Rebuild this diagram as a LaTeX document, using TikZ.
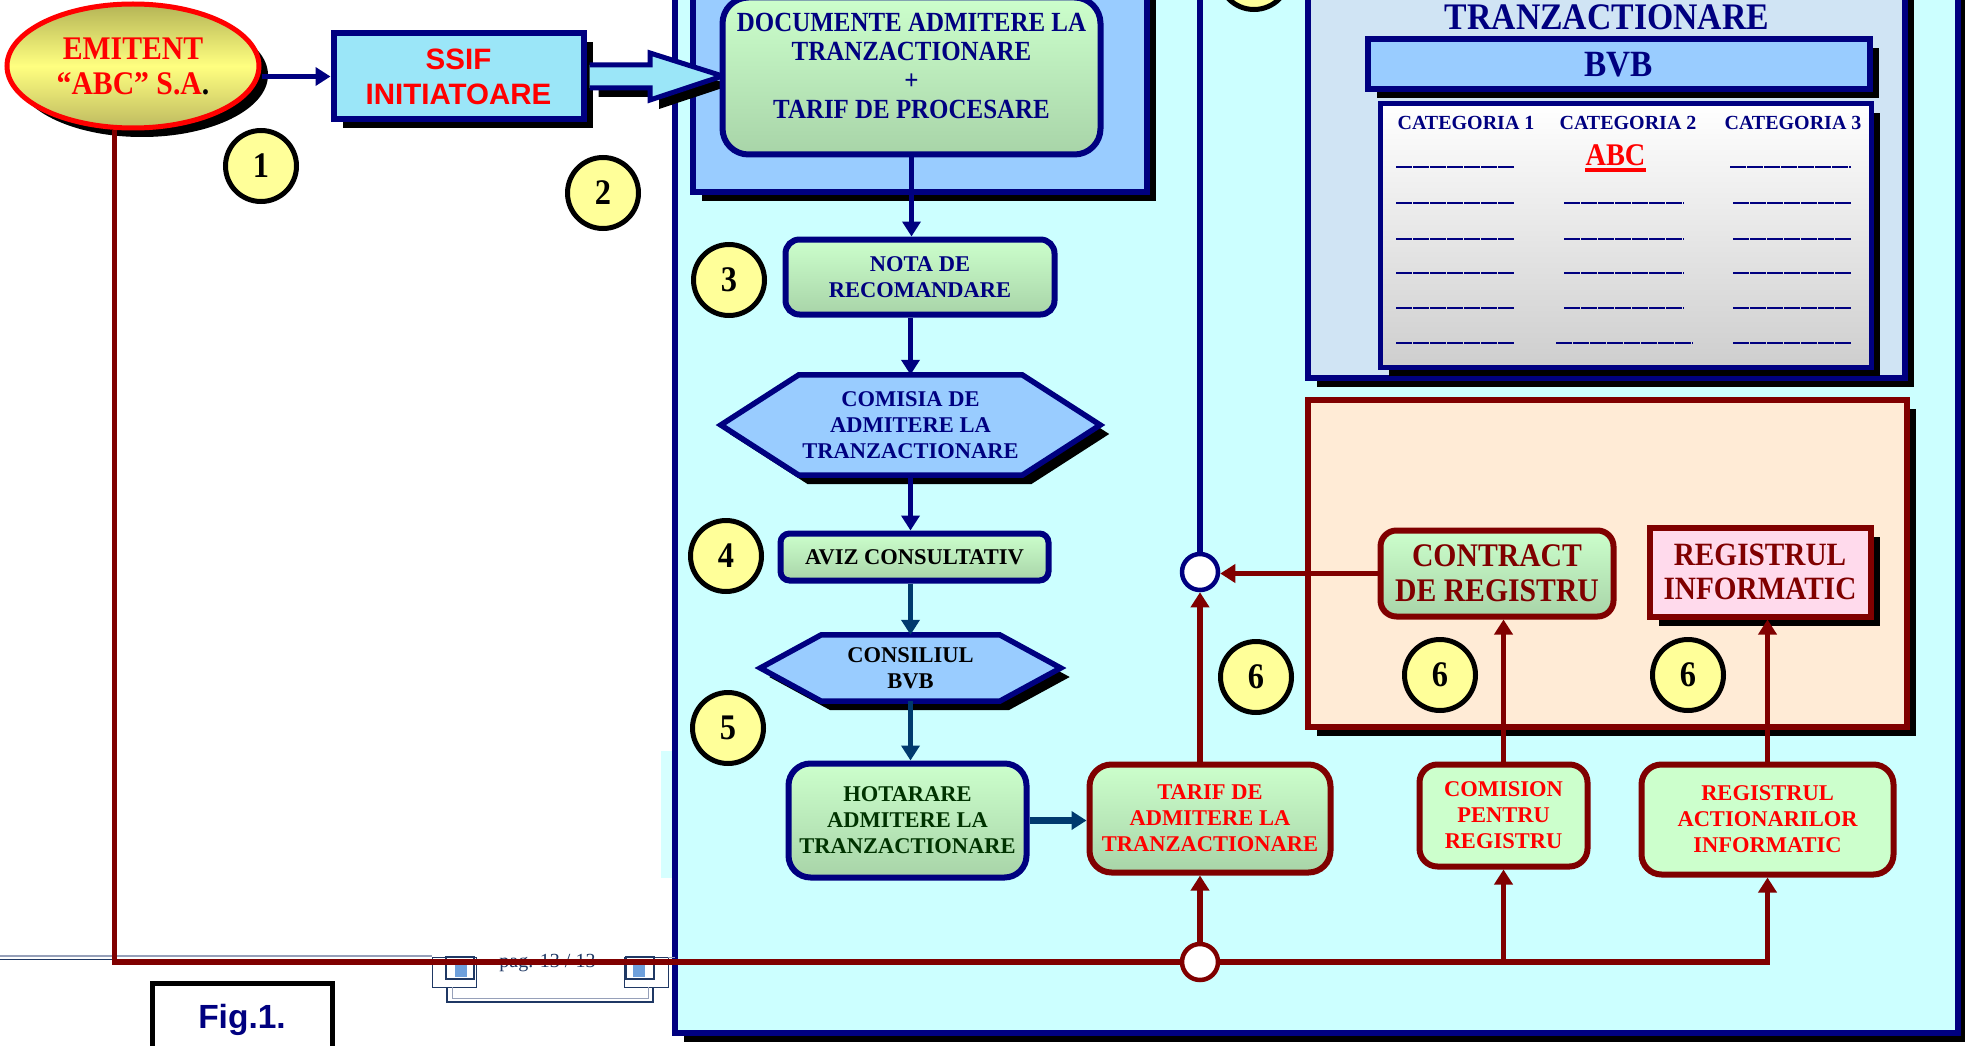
\documentclass[tikz,border=0pt]{standalone}
\usepackage{fontspec}
\setmainfont{Liberation Serif}
\newfontfamily\narrowrm[FakeStretch=0.9]{Liberation Serif}
\newfontfamily\arialbf{Liberation Sans}
\usetikzlibrary{shapes.geometric,arrows.meta,shadows,calc}

\definecolor{navy}{RGB}{0,0,128}
\definecolor{darkred}{RGB}{128,0,0}
\definecolor{slate}{RGB}{0,58,110}
\definecolor{darkgreen}{RGB}{0,51,0}
\definecolor{cyanbg}{RGB}{204,255,255}
\definecolor{cyanpale}{RGB}{214,255,255}
\definecolor{skyblue}{RGB}{153,204,255}
\definecolor{ssifcyan}{RGB}{155,230,248}
\definecolor{greentop}{RGB}{204,255,204}
\definecolor{greenbot}{RGB}{168,212,168}
\definecolor{peach}{RGB}{255,235,214}
\definecolor{pinkbox}{RGB}{255,218,236}
\definecolor{tranzbg}{RGB}{208,228,244}
\definecolor{tablegrey}{RGB}{206,206,206}
\definecolor{badgeyellow}{RGB}{255,255,153}
\definecolor{olivetop}{RGB}{180,180,86}
\definecolor{olivebot}{RGB}{190,186,96}
\definecolor{lemon}{RGB}{255,255,128}
\definecolor{footnavy}{RGB}{31,56,100}
\definecolor{footgrey}{RGB}{150,160,185}
\definecolor{iconblue}{RGB}{110,160,220}

\newcommand{\fsz}[2]{\fontsize{#1}{#2}\selectfont}
% hexagon round a plain node, #2 = depth of the points
\newcommand{\hexframe}[2]{\draw[hexline] (#1.west) -- ($(#1.north west)+(#2,0)$) -- ($(#1.north east)+(-#2,0)$) -- (#1.east) -- ($(#1.south east)+(-#2,0)$) -- ($(#1.south west)+(#2,0)$) -- cycle;}

\begin{document}
\begin{tikzpicture}[x=1pt,y=-1pt]
    % `panel' is used for the framed areas, `card' for the green boxes.
    % `badge' is used for the numbered yellow circles, `joint' for the small white ones.
    \tikzstyle{shadowed} = [drop shadow={shadow xshift=9pt,shadow yshift=-9pt,fill=black,opacity=1}]
    \tikzstyle{panel} = [line width=6pt,shadowed]
    \tikzstyle{boxbase} = [line width=6pt,align=center,inner sep=0pt]
    \tikzstyle{card} = [boxbase,draw=navy,rounded corners=12pt,top color=greentop,bottom color=greenbot]
    \tikzstyle{redcard} = [card,draw=darkred]
    \tikzstyle{flatcard} = [boxbase,draw=darkred,fill=greentop,rounded corners=18pt,text=red]
    \tikzstyle{hexline} = [draw=navy,line width=5.5pt,fill=skyblue,shadowed]
    \tikzstyle{badge} = [draw=black,line width=5pt,fill=badgeyellow,circle,minimum size=71pt,inner sep=0pt,font=\narrowrm\bfseries\fsz{36}{36}]
    \tikzstyle{joint} = [line width=4.5pt,fill=white,circle,minimum size=36pt,inner sep=0pt]
    \tikzstyle{flow} = [line width=5.5pt,color=navy,-{Triangle[width=18pt,length=15pt]}]
    \tikzstyle{slateflow} = [flow,color=slate]
    \tikzstyle{redflow} = [flow,color=darkred]
    \tikzstyle{redline} = [line width=5.5pt,color=darkred]
    \tikzstyle{tabline} = [line width=2.2pt,color=navy,dash pattern=on 16pt off 1pt]
    \tikzstyle{smalltext} = [font=\bfseries\fsz{22.5}{26}]
    %
    \useasboundingbox (0,0) rectangle (1965,1046);
    \clip (0,0) rectangle (1965,1046);
    \fill[white] (0,0) rectangle (1965,1046);

    % Draw the big frame and the areas in it.
    \fill[cyanpale] (661,751) rectangle (673,878);
    \path[panel,draw=navy,fill=cyanbg] (675,-20) rectangle (1958,1033);
    \path[panel,draw=navy,fill=skyblue] (693,-20) rectangle (1147,192);
    \path[panel,draw=navy,fill=tranzbg] (1308,-20) rectangle (1905,378);
    \path[panel,draw=darkred,fill=peach] (1308,400) rectangle (1907,727);

    % Trading board.
    \node[anchor=base,text=navy,font=\narrowrm\bfseries\fsz{37.5}{40}] (tranz) at (1607,30) {TRANZACTIONARE};
    \node[panel,draw=navy,fill=skyblue,minimum width=502pt,minimum height=50pt,text=navy,font=\narrowrm\bfseries\fsz{37}{40}] (bvb) at (1618.5,64.5) {BVB};
    \path[panel,draw=navy,line width=5pt,top color=white,bottom color=tablegrey] (1380,104) rectangle (1871,367);
    \foreach \cx/\cn in {1466/1,1628/2,1793/3}
      \node[anchor=base,text=navy,font=\bfseries\fsz{20}{22}] (cat\cn) at (\cx,130) {CATEGORIA \cn};
    \node[anchor=base,inner sep=0pt,text=red,font=\narrowrm\bfseries\fsz{31.5}{33}] (abc) at (1615.5,165) {ABC};
    \draw[red,line width=3.3pt] ($(abc.base west)+(0,5)$) -- ($(abc.base east)+(0,5)$);
    \foreach \ry in {203,239,273,308}
      \foreach \xa/\xb in {1396/1515,1564/1684,1733/1852}
        \draw[tabline] (\xa,\ry) -- (\xb,\ry);
    \foreach \xa/\xb in {1396/1515,1730/1851}
      \draw[tabline] (\xa,167) -- (\xb,167);
    \foreach \xa/\xb in {1396/1515,1556/1693,1733/1852}
      \draw[tabline] (\xa,343) -- (\xb,343);

    % Issuer and intermediary.
    \node[ellipse,draw=red,line width=5pt,top color=olivetop,bottom color=olivebot,middle color=lemon,shadowed,minimum width=252pt,minimum height=124pt,inner sep=0pt,align=center,text=red,font=\narrowrm\bfseries\fsz{33}{35}] (emit) at (133,66) {EMITENT\\“ABC” S.A{\color{black}.}};
    \node[panel,draw=navy,fill=ssifcyan,minimum width=250pt,minimum height=86pt,align=center,text=red,font=\arialbf\bfseries\fsz{29.5}{35}] (ssif) at (458.5,76.5) {SSIF\\INITIATOARE};
    \coordinate (docsin) at (722.5,76);
    \draw[draw=navy,line width=5pt,fill=ssifcyan,shadowed] ($(ssif.east)+(3,-11.5)$) -- ($(ssif.east)+(63.5,-11.5)$) -- ($(ssif.east)+(63.5,-23.5)$) -- (docsin) -- ($(ssif.east)+(63.5,23.5)$) -- ($(ssif.east)+(63.5,11.5)$) -- ($(ssif.east)+(3,11.5)$);

    % Admission flow.
    \node[card,minimum width=378pt,minimum height=157pt,rounded corners=26pt] (docs) at ($(docsin)+(189,0)$) {};
    \node[align=center,text=navy,font=\narrowrm\bfseries\fsz{27.7}{28.7}] (docstext) at ($(docs.center)+(0,-10)$) {DOCUMENTE ADMITERE LA\\TRANZACTIONARE\\+\\TARIF DE PROCESARE};
    \node[card,smalltext,text=navy,minimum width=269pt,minimum height=75pt,rounded corners=14pt] (nota) at (920,277) {NOTA DE\\RECOMANDARE};
    \node[minimum width=379pt,minimum height=100pt,inner sep=0pt] (comisia) at (910.5,425) {};
    \hexframe{comisia}{78}
    \node[smalltext,align=center,text=navy] (comisiatext) at (comisia.center) {COMISIA DE\\ADMITERE LA\\TRANZACTIONARE};
    \node[card,smalltext,text=black,minimum width=268pt,minimum height=47pt,rounded corners=9pt] (aviz) at (914.5,557) {AVIZ CONSULTATIV};
    \node[minimum width=300pt,minimum height=66pt,inner sep=0pt] (consil) at (910.5,668) {};
    \hexframe{consil}{61}
    \node[smalltext,align=center,text=black] (consiltext) at (consil.center) {CONSILIUL\\BVB};
    \node[card,smalltext,text=darkgreen,minimum width=238pt,minimum height=114pt,rounded corners=22pt] (hotar) at (907.5,820.5) {HOTARARE\\ADMITERE LA\\TRANZACTIONARE};
    \node[redcard,smalltext,text=red,minimum width=241pt,minimum height=108pt,rounded corners=22pt] (tarif) at (1210,818.5) {TARIF DE\\ADMITERE LA\\TRANZACTIONARE};

    % Registry part.
    \node[redcard,text=darkred,font=\narrowrm\bfseries\fsz{33}{35},minimum width=233pt,minimum height=86pt,rounded corners=16pt] (contr) at (1497,573.5) {CONTRACT\\DE REGISTRU};
    \node[boxbase,panel,draw=darkred,fill=pinkbox,text=darkred,font=\narrowrm\bfseries\fsz{32.5}{34},minimum width=221pt,minimum height=89pt] (reginf) at (1760,572) {REGISTRUL\\INFORMATIC};
    \node[flatcard,smalltext,minimum width=168pt,minimum height=102pt] (comis) at (1503.5,815.5) {COMISION\\PENTRU\\REGISTRU};
    \node[flatcard,smalltext,minimum width=252pt,minimum height=110pt,rounded corners=20pt] (regact) at (1767.5,819.5) {REGISTRUL\\ACTIONARILOR\\INFORMATIC};

    % Numbered steps.
    \node[badge] (s1) at (261,166) {1};
    \node[badge] (s2) at (603,193) {2};
    \node[badge] (s3) at (729,280) {3};
    \node[badge] (s4) at (726,556) {4};
    \node[badge] (s5) at (728,728) {5};
    \node[badge] (s6a) at (1256,677) {6};
    \node[badge] (s6b) at (1440,675) {6};
    \node[badge] (s6c) at (1688,675) {6};
    \node[badge] (s7) at (1254,-26) {};

    % Junctions.
    \node[joint,draw=navy] (jup) at (1200,572) {};
    \node[joint,draw=darkred] (jlow) at (1200,962) {};

    % Page footer, under the lines.
    \draw[footgrey,line width=1.2pt] (0,956) -- (432,956);
    \draw[footnavy,line width=1.2pt] (0,959.5) -- (432,959.5);
    \draw[footnavy,line width=0.8pt] (432,957) rectangle (476,987);
    \draw[footnavy,line width=2pt] (446,957) rectangle (474,979);
    \fill[iconblue] (455,965) rectangle (467,977);
    \draw[footnavy,line width=0.8pt] (624,957) rectangle (668,987);
    \draw[footnavy,line width=2pt] (626,957) rectangle (654,979);
    \fill[iconblue] (633,965) rectangle (645,977);
    \draw[footnavy,line width=1.2pt] (447,987) -- (447,1002) -- (653,1002) -- (653,987);
    \draw[footgrey,line width=1pt] (452,987) -- (452,998) -- (648,998) -- (648,987);
    \draw[footgrey,line width=1pt] (668,957) -- (675,957);
    \node[anchor=base,text=footnavy,font=\fsz{20}{22}] (pagenum) at (547.5,967) {pag. 13 / 13};
    \node[draw=black,line width=5pt,fill=white,minimum width=180pt,minimum height=100pt] (figbox) at (242,1033) {};
    \node[anchor=base,text=navy,font=\arialbf\bfseries\fsz{33.5}{36}] (figlabel) at (242,1028) {Fig.1.};

    % Draw lines.
    \draw[flow] (emit.east |- ssif.west) -- (ssif.west);
    \draw[flow] (docs.south) -- (docs.south |- nota.north);
    \draw[flow] (comisia.north |- nota.south) -- (comisia.north);
    \draw[flow] (comisia.south) -- (comisia.south |- aviz.north);
    \draw[slateflow] (consil.north |- aviz.south) -- (consil.north);
    \draw[slateflow] (consil.south) -- (consil.south |- hotar.north);
    \draw[slateflow,line width=6.5pt] (hotar.east) -- (hotar.east -| tarif.west);
    \coordinate (topend) at (1200,-10);
    \draw[navy,line width=5.5pt] (jup.north) -- (jup.north |- topend);
    \draw[redflow] (jup.south |- tarif.north) -- (jup.south);
    \draw[redflow] (contr.west) -- (contr.west -| jup.east);
    \draw[redflow] (jlow.north) -- (jlow.north |- tarif.south);
    \draw[redflow] (comis.north) -- (comis.north |- contr.south);
    \draw[redflow] (regact.north) -- (regact.north |- reginf.south);
    \draw[redline] (emit.254) |- (jlow.west);
    \draw[redflow] (jlow.east) -| (regact.south);
    \draw[redflow] (comis.south |- jlow.east) -- (comis.south);
\end{tikzpicture}
\end{document}
